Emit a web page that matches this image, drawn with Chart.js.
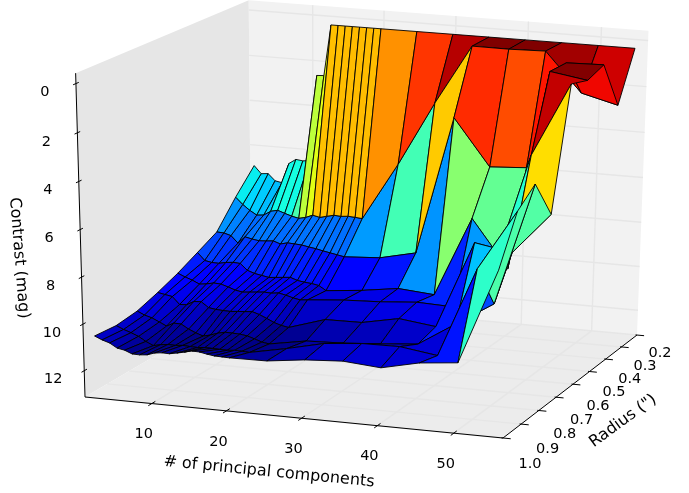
<!DOCTYPE html>
<html>
<head>
<meta charset="utf-8">
<title>Contrast surface</title>
<script src="https://cdn.jsdelivr.net/npm/chart.js@4"></script>
<style>
  html, body { margin: 0; padding: 0; background: #fff; }
  canvas { display: block; }
</style>
</head>
<body>
<canvas id="myChart" width="689" height="493"></canvas>
<script>
// values
const components = [2,3,4,5,6,7,8,9,10,11,12,13,14,15,16,17,18,19,20,25,30,35,40,45,50,55];
const radii = [0.216,0.312,0.408,0.504,0.6,0.696,0.792,0.888,0.984];

const contrast02 = [6.85,7.19,7.16,7.46,7.52,6.62,6.41,6.45,6.41,2.58,2.56,0.31,0.31,0.31,0.31,0.31,0.31,0.31,0.31,0.31,0.31,0.31,0.31,0.31,0.31,0.31];
const contrast03 = [7.84,8.14,8.38,8.57,8.54,8.34,8.27,8.38,8.48,8.55,8.48,8.35,8.42,8.34,8.27,8.29,8.26,8.28,8.31,5.74,2.92,0.33,0.34,0.30,1.98,2.38];
const contrast04 = [8.95,8.97,9.06,9.37,9.06,9.13,9.18,9.16,9.13,9.24,9.16,9.18,9.20,9.26,9.31,9.38,9.44,9.50,9.56,9.46,9.10,3.02,5.03,4.93,0.30,0.26];
const contrast05 = [9.40,9.73,9.79,9.80,9.73,9.70,9.72,10.00,10.11,10.17,10.23,10.20,10.17,10.14,10.25,10.30,10.33,10.39,10.59,10.43,10.20,10.33,6.83,8.88,0.28,0.53];
const contrast06 = [9.84,9.98,10.09,10.24,10.20,10.13,10.15,10.25,10.36,10.42,10.39,10.36,10.33,10.35,10.31,10.38,10.47,10.53,10.50,10.36,10.29,10.16,10.22,8.74,3.39,0.29];
const contrast07 = [10.20,10.26,10.32,10.64,10.62,10.45,10.43,10.66,10.71,10.73,10.74,10.71,10.69,10.66,10.76,10.90,11.05,11.15,11.21,10.71,10.69,10.37,10.57,6.80,7.08,5.32];
const contrast08 = [10.51,10.66,10.75,10.90,11.05,10.89,10.90,11.09,11.23,11.34,11.26,11.15,11.08,11.09,11.10,11.15,11.25,11.36,11.41,11.13,11.07,10.95,10.81,9.79,8.78,3.60];
const contrast09 = [10.63,10.77,10.88,11.01,11.20,11.35,11.28,11.24,11.25,11.22,11.24,11.25,11.22,11.23,11.24,11.25,11.22,11.23,11.25,10.93,10.56,10.41,10.39,10.62,6.80,4.28];
const contrast10 = [10.56,10.70,10.80,10.99,11.05,11.18,11.19,11.16,11.05,11.01,11.02,10.96,10.89,10.81,10.82,10.88,10.93,10.94,10.95,10.93,10.73,10.63,10.76,10.40,10.24,6.23];
const contrastRows = [contrast02,contrast03,contrast04,contrast05,contrast06,contrast07,contrast08,contrast09,contrast10];

const componentTicks = [10,20,30,40,50];
const radiusTicks = [0.2,0.3,0.4,0.5,0.6,0.7,0.8,0.9,1.0];
const radiusTickText = ["0.2","0.3","0.4","0.5","0.6","0.7","0.8","0.9","1.0"];
const contrastTicks = [0,2,4,6,8,10,12];

// axis limits of the box
const compMin = 0.97, compMax = 56.4;
const radMin = 0.2, radMax = 1.0;
const conTop = -0.42, conBottom = 13.14;

// camera, fitted on the corners of the box
function project(pc, rad, con){
    let a = (compMax-pc)/(compMax-compMin);
    let b = (radMax-rad)/(radMax-radMin);
    let c = (conBottom-con)/(conBottom-conTop);
    let w = 1 + 0.0227*a + 0.0936*b - 0.0387*c;
    return {
        x: (503 - 416.07*a + 193.6*b - 12.5*c)/w,
        y: (438 - 32*a - 71.6*b - 334*c)/w,
        w: w
    };
}

// matplotlib jet
function ramp(t, pts){
    for(let i=1;i<pts.length;i++){
        if(t<=pts[i][0]){
            let f = (t-pts[i-1][0])/(pts[i][0]-pts[i-1][0]);
            return pts[i-1][1] + f*(pts[i][1]-pts[i-1][1]);
        }
    }
    return pts[pts.length-1][1];
}
function jet(t){
    t = Math.min(1,Math.max(0,t));
    let r = ramp(t,[[0,0],[0.35,0],[0.66,1],[0.89,1],[1,0.5]]);
    let g = ramp(t,[[0,0],[0.125,0],[0.375,1],[0.64,1],[0.91,0],[1,0]]);
    let b = ramp(t,[[0,0.5],[0.11,1],[0.34,1],[0.65,0],[1,0]]);
    return `rgb(${Math.round(r*255)},${Math.round(g*255)},${Math.round(b*255)})`;
}

// surface cells. the first corner counts twice in the colour, as the closed polygon does in mplot3d
let cells = [];
for(let i=0;i<radii.length-1;i++){
    for(let j=0;j<components.length-1;j++){
        let corners = [[i,j],[i,j+1],[i+1,j+1],[i+1,j]];
        let pts = corners.map(k => project(components[k[1]],radii[k[0]],contrastRows[k[0]][k[1]]));
        let vals = corners.map(k => contrastRows[k[0]][k[1]]);
        let avg = (vals[0]*2+vals[1]+vals[2]+vals[3])/5;
        let depth = (pts[0].w+pts[1].w+pts[2].w+pts[3].w)/4;
        cells.push({pts:pts,avg:avg,depth:depth});
    }
}
let avgs = cells.map(c => c.avg);
let avgMin = Math.min(...avgs), avgMax = Math.max(...avgs);
cells.sort((p,q) => p.depth-q.depth); // nearest first, chart.js paints the first dataset last

let datasets = [];
function poly(pts, fillCol, edgeCol, edgeW){
    datasets.push({
        data: pts.concat([pts[0]]).map(p => ({x:p.x,y:p.y})),
        showLine: true,
        fill: 'shape',
        backgroundColor: fillCol,
        borderColor: edgeCol,
        borderWidth: edgeW,
        pointRadius: 0,
        tension: 0
    });
}
function seg(p, q, col, w){
    datasets.push({
        data: [{x:p.x,y:p.y},{x:q.x,y:q.y}],
        showLine: true,
        fill: false,
        borderColor: col,
        borderWidth: w,
        pointRadius: 0,
        tension: 0
    });
}

for(const c of cells){
    poly(c.pts, jet((avgMax-c.avg)/(avgMax-avgMin)), '#000', 0.9);
}

// ticks
for(const t of componentTicks){
    seg(project(t,radMax+0.016,conBottom), project(t,radMax-0.016,conBottom), '#000', 1);
}
for(const t of radiusTicks){
    seg(project(compMax+1.0,t,conBottom), project(compMax-0.2,t,conBottom), '#000', 1);
}
for(const t of contrastTicks){
    seg(project(compMin,radMax+0.012,t), project(compMin,radMax-0.012,t), '#000', 1);
}
// axis lines
seg(project(compMin,radMax,conBottom), project(compMax,radMax,conBottom), '#000', 1);
seg(project(compMax,radMax,conBottom), project(compMax,radMin,conBottom), '#000', 1);
seg(project(compMin,radMax,conTop), project(compMin,radMax,conBottom), '#000', 1);

// grid on the panes
const gridCol = '#e6e6e6';
for(const t of componentTicks){
    seg(project(t,radMax,conBottom), project(t,radMin,conBottom), gridCol, 1.4);
    seg(project(t,radMin,conBottom), project(t,radMin,conTop), gridCol, 1.4);
}
for(const t of radiusTicks){
    seg(project(compMin,t,conBottom), project(compMax,t,conBottom), gridCol, 1.4);
}
for(const t of contrastTicks){
    seg(project(compMin,radMin,t), project(compMax,radMin,t), gridCol, 1.4);
}

// panes
poly([project(compMin,radMax,conBottom),project(compMax,radMax,conBottom),project(compMax,radMin,conBottom),project(compMin,radMin,conBottom)], '#ececec', '#ececec', 0);
poly([project(compMin,radMin,conBottom),project(compMax,radMin,conBottom),project(compMax,radMin,conTop),project(compMin,radMin,conTop)], '#f2f2f2', '#f2f2f2', 0);
poly([project(compMin,radMax,conBottom),project(compMin,radMin,conBottom),project(compMin,radMin,conTop),project(compMin,radMax,conTop)], '#e6e6e6', '#e6e6e6', 0);

// tick and axis text, offsets from the tick on screen
const compLabelShift = [-8,31], conLabelShift = [-31,9];
const tickFont = '14.5px "DejaVu Sans"';
const titleFont = '16px "DejaVu Sans"';
const textPlugin = {
    id: 'boxText',
    afterDraw(chart){
        const ctx = chart.ctx;
        ctx.save();
        ctx.fillStyle = '#000';
        ctx.font = tickFont;
        ctx.textAlign = 'center';
        ctx.textBaseline = 'middle';
        for(const t of componentTicks){
            let p = project(t,radMax,conBottom);
            ctx.fillText(String(t), p.x+compLabelShift[0], p.y+compLabelShift[1]);
        }
        radiusTicks.forEach((t,i) => {
            let p = project(compMax,t,conBottom);
            let f = (radMax-t)/(radMax-radMin);
            ctx.fillText(radiusTickText[i], p.x+27-4*f, p.y+26-8*f);
        });
        for(const t of contrastTicks){
            let p = project(compMin,radMax,t);
            ctx.fillText(String(t), p.x+conLabelShift[0], p.y+conLabelShift[1]);
        }
        const titles = [
            ['# of principal components',269,472,5.6],
            ['Radius (")',623,421,-36],
            ['Contrast (mag)',19,258,85.5]
        ];
        ctx.font = titleFont;
        for(const t of titles){
            ctx.save();
            ctx.translate(t[1],t[2]);
            ctx.rotate(t[3]*Math.PI/180);
            ctx.fillText(t[0],0,0);
            ctx.restore();
        }
        ctx.restore();
    }
};

const ctx = document.getElementById('myChart').getContext('2d');
const myChart = new Chart(ctx, {
    type: 'scatter',
    data: { datasets: datasets },
    options: {
        responsive: false,
        animation: false,
        devicePixelRatio: 1,
        layout: { padding: 0 },
        plugins: { legend: {display:false}, tooltip: {enabled:false} },
        scales: {
            x: { type:'linear', min:0, max:689, display:false },
            y: { type:'linear', min:0, max:493, reverse:true, display:false }
        }
    },
    plugins: [textPlugin]
});
</script>
</body>
</html>
